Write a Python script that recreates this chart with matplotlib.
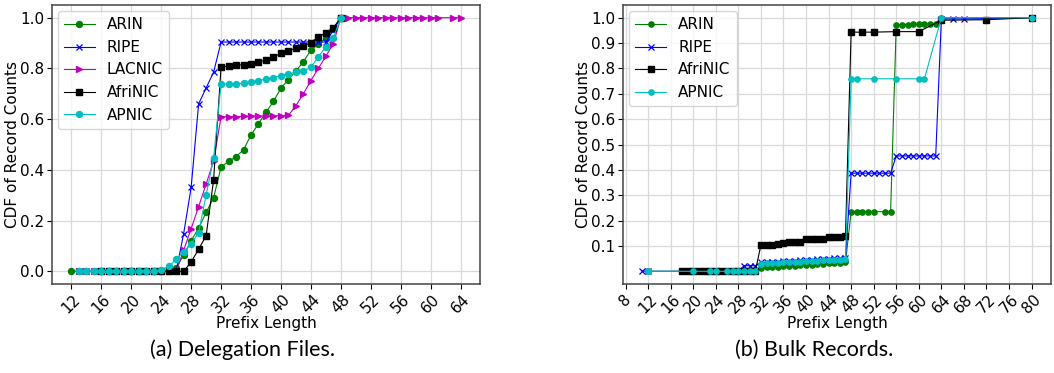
import matplotlib

matplotlib.use("Agg")
import matplotlib.pyplot as plt

# ---- (a) Delegation files -------------------------------------------------
dl_arin_x = list(range(12, 49))
dl_arin_y = [0.0] * 13 + [0.003, 0.015, 0.063, 0.121, 0.17, 0.232, 0.29,
                          0.412, 0.433, 0.452, 0.479, 0.538, 0.582, 0.627, 0.67,
                          0.722, 0.756, 0.79, 0.826, 0.872, 0.895, 0.92, 0.955, 1.0]

dl_ripe_x = list(range(13, 49))
dl_ripe_y = [0.0] * 14 + [0.149, 0.331, 0.66, 0.723, 0.785,
                          0.904, 0.904, 0.904, 0.904, 0.904, 0.904, 0.904, 0.904,
                          0.904, 0.904, 0.904, 0.904, 0.904, 0.904, 0.904, 0.95, 1.0]

dl_lacnic_x = list(range(13, 62)) + [63, 64]
dl_lacnic_y = ([0.0] * 14 + [0.083, 0.168, 0.255, 0.344, 0.435,
                             0.609, 0.61, 0.61, 0.611, 0.612, 0.612, 0.613, 0.613,
                             0.614, 0.615, 0.653, 0.70, 0.752, 0.80, 0.848, 0.897,
                             1.0] + [1.0] * 15)

dl_afrinic_x = list(range(16, 49))
dl_afrinic_y = [0.0] * 12 + [0.037, 0.087, 0.14, 0.36,
                             0.806, 0.809, 0.812, 0.815, 0.818, 0.824, 0.834, 0.846,
                             0.859, 0.87, 0.879, 0.889, 0.901, 0.923, 0.941, 0.96, 1.0]

dl_apnic_x = list(range(13, 49))
dl_apnic_y = [0.0] * 11 + [0.006, 0.02, 0.047, 0.078, 0.108, 0.153, 0.30, 0.446,
                           0.739, 0.738, 0.739, 0.742, 0.748, 0.752, 0.758, 0.764,
                           0.772, 0.778, 0.786, 0.79, 0.805, 0.845, 0.885, 0.92, 1.0]

# ---- (b) Bulk records ------------------------------------------------------
bk_arin_x = [12] + list(range(18, 53)) + [54, 55] + list(range(56, 65)) + [80]
bk_arin_y = ([0.0] + [0.0] * 14 +
             [0.015, 0.016, 0.017, 0.018, 0.02, 0.021, 0.022, 0.023,
              0.025, 0.026, 0.027, 0.028, 0.031, 0.033, 0.034, 0.035] +
             [0.235] * 5 + [0.235, 0.235] +
             [0.972, 0.973, 0.973, 0.974, 0.974, 0.975, 0.975, 0.976] +
             [1.0, 1.0])

bk_ripe_x = [11, 12] + list(range(18, 65)) + [66, 68, 80]
bk_ripe_y = ([0.001, 0.0] + [0.0] * 11 + [0.022, 0.022, 0.022] +
             [0.035, 0.036, 0.037, 0.038, 0.04, 0.041, 0.042, 0.043,
              0.045, 0.046, 0.047, 0.048, 0.05, 0.051, 0.052, 0.053] +
             [0.387] * 8 + [0.455] * 8 + [0.995, 0.995, 0.995, 1.0])

bk_afrinic_x = list(range(18, 49)) + [50, 52, 56, 60, 64, 72, 80]
bk_afrinic_y = ([0.0] * 14 +
                [0.103, 0.104, 0.105, 0.106, 0.113, 0.114, 0.115, 0.116,
                 0.126, 0.127, 0.128, 0.129, 0.134, 0.135, 0.137, 0.139] +
                [0.943, 0.943, 0.943, 0.945, 0.945, 0.99, 0.992, 1.0])

bk_apnic_x = [12, 20, 23, 24] + list(range(26, 50)) + [52, 56, 60, 61, 64, 80]
bk_apnic_y = ([0.0, 0.0, 0.0, 0.0] + [0.0] * 6 +
              [0.03, 0.031, 0.032, 0.033, 0.035, 0.036, 0.037, 0.038,
               0.04, 0.041, 0.042, 0.043, 0.044, 0.045, 0.046, 0.047] +
              [0.759, 0.759] + [0.759] * 4 + [1.0, 1.0])

LEFT_XTICKS = list(range(12, 65, 4))
RIGHT_XTICKS = list(range(8, 81, 4))
LEFT_YTICKS = [0.0, 0.2, 0.4, 0.6, 0.8, 1.0]
RIGHT_YTICKS = [0.1, 0.2, 0.3, 0.4, 0.5, 0.6, 0.7, 0.8, 0.9, 1.0]

FS = 11
fig = plt.figure(figsize=(10.54, 3.73), dpi=100)
ax1 = fig.add_axes([0.0493, 0.2386, 0.4061, 0.748])
ax2 = fig.add_axes([0.5911, 0.2386, 0.4061, 0.748])


def style(ax, xticks, yticks):
    ax.set_xticks(xticks)
    ax.set_yticks(yticks)
    ax.tick_params(axis="x", labelrotation=45, labelsize=FS, pad=2)
    ax.tick_params(axis="y", labelsize=FS, pad=2)
    ax.grid(True, color="#d9d9d9", lw=0.9)
    ax.set_axisbelow(True)
    for s in ax.spines.values():
        s.set_color("#444444")
        s.set_linewidth(1.1)
    ax.set_xlabel("Prefix Length", fontsize=FS, labelpad=0)
    ax.set_ylabel("CDF of Record Counts", fontsize=FS, labelpad=0)


lw = 0.8
ax1.plot(dl_arin_x, dl_arin_y, "g-o", lw=lw, ms=4.3, label="ARIN")
ax1.plot(dl_ripe_x, dl_ripe_y, "b-x", lw=lw, ms=4.2, mew=0.9, label="RIPE")
ax1.plot(dl_lacnic_x, dl_lacnic_y, "m->", lw=lw, ms=4.6, label="LACNIC")
ax1.plot(dl_afrinic_x, dl_afrinic_y, "k-s", lw=lw, ms=4.4, label="AfriNIC")
ax1.plot(dl_apnic_x, dl_apnic_y, "c-o", lw=lw, ms=4.3, label="APNIC")
style(ax1, LEFT_XTICKS, LEFT_YTICKS)
ax1.legend(loc="upper left", fontsize=FS, borderaxespad=0.4)

ax2.plot(bk_arin_x, bk_arin_y, "g-o", lw=lw, ms=3.8, label="ARIN")
ax2.plot(bk_ripe_x, bk_ripe_y, "b-x", lw=lw, ms=3.8, mew=0.9, label="RIPE")
ax2.plot(bk_afrinic_x, bk_afrinic_y, "k-s", lw=lw, ms=4.6, label="AfriNIC")
ax2.plot(bk_apnic_x, bk_apnic_y, "c-o", lw=lw, ms=3.8, label="APNIC")
style(ax2, RIGHT_XTICKS, RIGHT_YTICKS)
ax2.legend(loc="upper left", fontsize=FS, borderaxespad=0.4)

cap_font = ["Lato", "DejaVu Sans"]
fig.text(0.2306, 0.062, "(a) Delegation Files.", ha="center", va="center",
         fontsize=15.5, family=cap_font)
fig.text(0.7725, 0.062, "(b) Bulk Records.", ha="center", va="center",
         fontsize=15.5, family=cap_font)

fig.savefig("out.png", dpi=100, facecolor="white")
